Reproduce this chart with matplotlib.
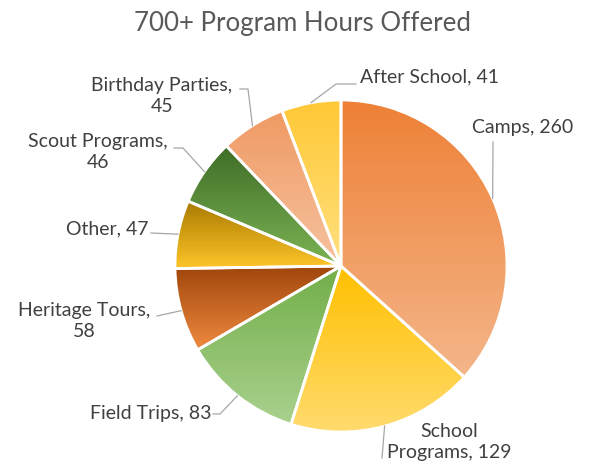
import numpy as np
import matplotlib.pyplot as plt
from matplotlib.colors import to_rgb

# ---------- data ----------
categories = ["Camps", "School Programs", "Field Trips", "Heritage Tours",
              "Other", "Scout Programs", "Birthday Parties", "After School"]
hours = [260, 129, 83, 58, 47, 46, 45, 41]
label_texts = ["Camps, 260", "School\nPrograms, 129", "Field Trips, 83",
               "Heritage Tours,\n58", "Other, 47", "Scout Programs,\n46",
               "Birthday Parties,\n45", "After School, 41"]

# gradient colours (top, bottom) per slice
grad_colors = [("#EE8036", "#F4B68A"), ("#FFC000", "#FFDB6E"),
               ("#72AE48", "#A9D18E"), ("#A0460C", "#F08A40"),
               ("#A87A00", "#FFC62A"), ("#3E6C26", "#7DB455"),
               ("#F09A63", "#F6C2A0"), ("#FFC836", "#FFE080")]

# label layout in pixel coords (x, y from top), alignment and leader start points
label_pos = [(472, 128, "left"), (449, 442, "center"), (211, 413, "right"),
             (84, 321, "center"), (148, 229, "right"), (98, 152, "center"),
             (162, 96, "center"), (360, 77, "left")]
leader_pts = [[(493, 142)], [(382, 458)], [(213, 414), (220, 414)],
              [(157, 316)], [(151, 233)], [(174, 148), (183, 148)],
              [(240, 89), (248, 89)], [(356, 84), (336, 84)]]

W, H = 591, 468
fig = plt.figure(figsize=(W / 100, H / 100), dpi=100)
ax = fig.add_axes([0, 0, 1, 1])

cx, cy, R = 341, H - 266, 166
wedges, _ = ax.pie(hours, startangle=90, counterclock=False, center=(cx, cy),
                   radius=R, frame=True,
                   wedgeprops=dict(edgecolor="white", linewidth=2, facecolor="none"))

for w, (c_top, c_bot) in zip(wedges, grad_colors):
    ext = w.get_path().get_extents()
    t = np.linspace(0, 1, 256)[:, None]
    img = (1 - t) * np.array(to_rgb(c_top)) + t * np.array(to_rgb(c_bot))
    im = ax.imshow(img[:, None, :], extent=[ext.x0, ext.x1, ext.y0, ext.y1],
                   origin="upper", aspect="auto", zorder=1, interpolation="bilinear")
    im.set_clip_path(w)
    w.set_zorder(2)

# labels and leader lines
for w, txt, (lx, ly, ha), pts in zip(wedges, label_texts, label_pos, leader_pts):
    mid = np.deg2rad((w.theta1 + w.theta2) / 2)
    ex, ey = cx + R * np.cos(mid), cy + R * np.sin(mid)
    xs = [p[0] for p in pts] + [ex]
    ys = [H - p[1] for p in pts] + [ey]
    ax.plot(xs, ys, color="#A6A6A6", lw=0.9, zorder=3)
    ax.text(lx, H - ly, txt, ha=ha, va="center", multialignment="center",
            fontsize=14, color="#404040", family="Lato", linespacing=1.3)

ax.text(302, H - 24, "700+ Program Hours Offered", ha="center", va="center",
        fontsize=18.6, color="#595959", family="Lato")

ax.set_xlim(0, W)
ax.set_ylim(0, H)
ax.set_aspect("auto")
ax.axis("off")

fig.savefig("out.png", dpi=100)
